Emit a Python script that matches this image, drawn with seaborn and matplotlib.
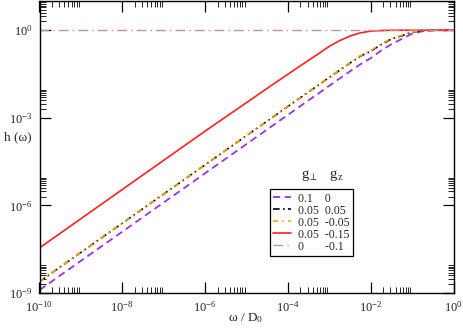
import matplotlib
matplotlib.use("Agg")
import matplotlib.pyplot as plt
import seaborn as sns
from matplotlib.ticker import FixedLocator, NullFormatter, LogFormatterMathtext

# values (omega / D0 and h(omega))
omega = [1e-10, 1e-8, 1e-6, 1e-5, 3.16e-5, 1e-4, 1.78e-4, 3.16e-4, 5.62e-4,
         1e-3, 1.78e-3, 3.16e-3, 5.62e-3, 1e-2, 1.78e-2, 3.16e-2, 5.62e-2,
         1e-1, 1.78e-1, 3.16e-1, 1.0]

h_purple = [1.26e-9, 1.26e-7, 1.26e-5, 1.26e-4, 3.98e-4, 1.26e-3, 2.24e-3, 3.98e-3, 7.0e-3,
            0.0125, 0.0222, 0.039, 0.068, 0.11, 0.20, 0.33, 0.50,
            0.76, 0.92, 0.99, 1.0]
h_black = [2.45e-9, 2.45e-7, 2.45e-5, 2.45e-4, 7.7e-4, 2.45e-3, 4.35e-3, 7.7e-3, 0.0136,
           0.0242, 0.0427, 0.0746, 0.129, 0.19, 0.32, 0.50, 0.64,
           0.86, 0.96, 0.99, 1.0]
h_orange = [2.45e-9, 2.45e-7, 2.45e-5, 2.45e-4, 7.7e-4, 2.45e-3, 4.35e-3, 7.7e-3, 0.0136,
            0.0245, 0.0435, 0.076, 0.133, 0.20, 0.34, 0.52, 0.67,
            0.88, 0.97, 0.99, 1.0]
h_red = [3.5e-8, 3.5e-6, 3.5e-4, 3.3e-3, 0.0102, 0.031, 0.054, 0.093, 0.16,
         0.28, 0.44, 0.63, 0.81, 0.93, 0.975, 0.995, 1.0,
         1.0, 1.0, 1.0, 1.0]
omega_flat = [1e-10, 1.0]
h_flat = [1.0, 1.0]

labels = ["0.1    0", "0.05  0.05", "0.05  -0.05", "0.05  -0.15", "0       -0.1"]

sns.set_style("ticks")
plt.rcParams["font.family"] = ["Liberation Serif", "DejaVu Serif"]
plt.rcParams["mathtext.fontset"] = "custom"
plt.rcParams["mathtext.rm"] = "Liberation Serif"
plt.rcParams["mathtext.it"] = "Liberation Serif:italic"
plt.rcParams["mathtext.default"] = "regular"

fig = plt.figure(figsize=(4.63, 3.28), dpi=100)
ax = fig.add_axes([39.5 / 463, 35 / 328, 414 / 463, 292 / 328])
ax.set_xscale("log")
ax.set_yscale("log")

sns.lineplot(x=omega, y=h_purple, ax=ax, color="#9b30e0", lw=1.3,
             linestyle=(0, (4, 2.5)), label=labels[0])
sns.lineplot(x=omega, y=h_black, ax=ax, color="black", lw=1.2,
             linestyle=(0, (4, 2, 1, 2)), label=labels[1])
sns.lineplot(x=omega, y=h_orange, ax=ax, color="#ffa500", lw=1.2,
             linestyle=(0, (3, 2.5, 1, 2.5)), label=labels[2])
sns.lineplot(x=omega, y=h_red, ax=ax, color="#ff2020", lw=1.2,
             label=labels[3])
sns.lineplot(x=omega_flat, y=h_flat, ax=ax, color="#c99090", lw=1.0,
             linestyle=(0, (7, 3, 1, 3)), label=labels[4])

ax.set_xlim(1e-10, 1)
ax.set_ylim(1e-9, 10)

# major ticks every 2 decades (x) and 3 decades (y), minor ticks 2..9 above each major
x_major = [10.0 ** e for e in range(-10, 1, 2)]
y_major = [10.0 ** e for e in range(-9, 1, 3)]
ax.xaxis.set_major_locator(FixedLocator(x_major))
ax.yaxis.set_major_locator(FixedLocator(y_major))
ax.xaxis.set_minor_locator(FixedLocator([k * m for m in x_major[:-1] for k in range(2, 10)]))
ax.yaxis.set_minor_locator(FixedLocator([k * m for m in y_major for k in range(2, 10)]))
ax.xaxis.set_major_formatter(LogFormatterMathtext())
ax.yaxis.set_major_formatter(LogFormatterMathtext())
ax.xaxis.set_minor_formatter(NullFormatter())
ax.yaxis.set_minor_formatter(NullFormatter())

ax.tick_params(which="both", direction="in", top=True, right=True, labelsize=9,
               color="black")
ax.tick_params(which="major", length=8, width=0.9, pad=5)
ax.tick_params(which="minor", length=4, width=0.6)
for sp in ax.spines.values():
    sp.set_visible(True)
    sp.set_linewidth(1.0)
    sp.set_color("black")

# axis titles placed like the original (y title horizontal)
fig.text(246 / 463, 1 - 318 / 328, r"ω / D$_0$", fontsize=9.5, ha="center", va="center")
fig.text(4 / 463, 1 - 137 / 328, "h (ω)", fontsize=9.5, ha="left", va="center")

leg = ax.legend(loc="upper left", bbox_to_anchor=(230 / 414, (328 - 35 - 189) / 292),
                fontsize=8.5, frameon=True, fancybox=False, framealpha=1,
                edgecolor="black", handlelength=1.5, handletextpad=0.6,
                labelspacing=0.0, borderpad=0.3, borderaxespad=0)
leg.get_frame().set_linewidth(0.9)
ax.text(301, 328 - 178, r"g$_\perp$   g$_z$", transform=None, fontsize=10.5,
        ha="left", va="baseline")

fig.savefig("out.png", dpi=100)
